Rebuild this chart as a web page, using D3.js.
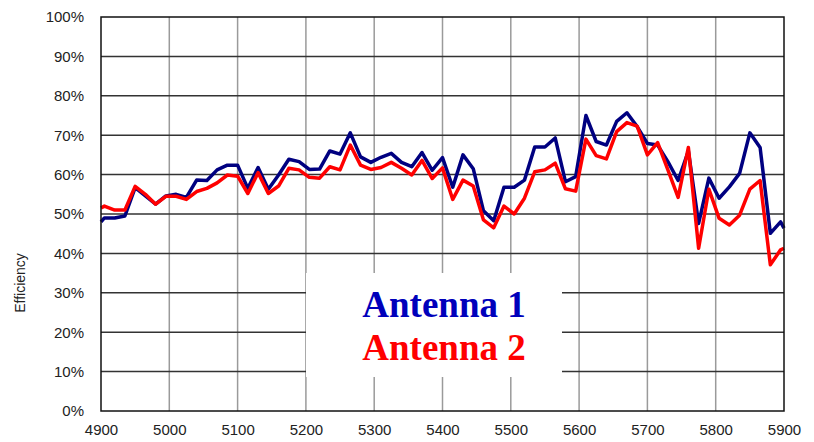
<!DOCTYPE html>
<meta charset="utf-8">
<style>
  body { margin: 0; background: #fff; }
  svg { display: block; }
</style>
<script src="https://d3js.org/d3.v7.min.js"></script>
<body>
<svg id="chart"></svg>
<script>
// frequencies (MHz) and efficiencies (%)
var freqs = [4900, 4905, 4920, 4935, 4950, 4965, 4980, 4995, 5010, 5025,
  5040, 5055, 5070, 5085, 5100, 5115, 5130, 5145, 5160, 5175,
  5190, 5205, 5220, 5235, 5250, 5265, 5280, 5295, 5310, 5325,
  5340, 5355, 5370, 5385, 5400, 5415, 5430, 5445, 5460, 5475,
  5490, 5505, 5520, 5535, 5550, 5565, 5580, 5595, 5610, 5625,
  5640, 5655, 5670, 5685, 5700, 5715, 5730, 5745, 5760, 5775,
  5790, 5805, 5820, 5835, 5850, 5865, 5880, 5895, 5900];

var antenna1 = [48, 49, 49, 49.5, 56.7, 54.6, 52.5, 54.6, 55, 54.2,
  58.6, 58.5, 61.2, 62.4, 62.4, 56.5, 61.8, 56.3, 59.9, 63.9,
  63.3, 61.3, 61.4, 66, 65.2, 70.6, 64.5, 63.1, 64.4, 65.4,
  63.1, 62, 65.6, 61.1, 64.3, 56.8, 65, 61.5, 50.8, 48.3,
  56.8, 56.8, 58.6, 67, 67, 69.3, 58.2, 59.5, 75, 68.4,
  67.5, 73.5, 75.7, 72.2, 67.9, 67.5, 63.3, 58.5, 66, 47.6,
  59.1, 54, 56.9, 60.3, 70.6, 66.9, 45.1, 48, 46.4];

var antenna2 = [51.5, 52, 51, 51, 57, 55, 52.5, 54.5, 54.5, 53.7,
  55.7, 56.5, 57.9, 59.9, 59.6, 55.2, 60.5, 55.2, 57.1, 61.6,
  61.2, 59.3, 59.1, 62, 61.2, 67.5, 62.4, 61.3, 61.8, 63.1,
  61.6, 59.9, 63.6, 59, 61.7, 53.7, 58.6, 57.1, 48.5, 46.5,
  52, 50, 54, 60.7, 61.2, 62.9, 56.4, 55.8, 69, 64.8,
  64, 70.9, 73.2, 72.3, 65, 68.1, 61.2, 54.2, 66.9, 41.3,
  56.3, 48.9, 47.2, 49.7, 56.3, 58.5, 37.1, 40.9, 41.3];

var xTicks = [4900, 5000, 5100, 5200, 5300, 5400, 5500, 5600, 5700, 5800, 5900];
var yTicks = [0, 10, 20, 30, 40, 50, 60, 70, 80, 90, 100];
var seriesNames = ["Antenna 1", "Antenna 2"];
var seriesColours = ["#000080", "#ff0000"];
var legendColours = ["#0000bb", "#ff0000"];

var W = 814, H = 442;
var m = {l: 101, r: 784, t: 17, b: 411};

var svg = d3.select("#chart").attr("width", W).attr("height", H);

var x = d3.scaleLinear().domain([4900, 5900]).range([m.l, m.r]);
var y = d3.scaleLinear().domain([0, 100]).range([m.b, m.t]);

// vertical grid (light grey)
svg.append("g")
  .selectAll("line")
  .data(xTicks.slice(1, -1))
  .enter().append("line")
  .attr("x1", d => x(d)).attr("x2", d => x(d))
  .attr("y1", m.t).attr("y2", m.b)
  .attr("stroke", "#9a9a9a").attr("stroke-width", 1.5);

// horizontal grid (dark)
svg.append("g")
  .selectAll("line")
  .data(yTicks.slice(1, -1))
  .enter().append("line")
  .attr("x1", m.l).attr("x2", m.r)
  .attr("y1", d => y(d)).attr("y2", d => y(d))
  .attr("stroke", "#333").attr("stroke-width", 1.5);

// axes, drawn with d3 but without tick marks
var yAxis = svg.append("g")
  .attr("transform", "translate(" + m.l + ",0)")
  .call(d3.axisLeft(y).tickValues(yTicks).tickSize(0).tickPadding(17).tickFormat(d => d + "%"));
var xAxis = svg.append("g")
  .attr("transform", "translate(0," + m.b + ")")
  .call(d3.axisBottom(x).tickValues(xTicks).tickSize(0).tickPadding(13).tickFormat(d3.format("d")));

[yAxis, xAxis].forEach(a => {
  a.select(".domain").remove();
  a.selectAll("text")
    .attr("fill", "#222")
    .style("font-family", "Liberation Sans, Arial, sans-serif")
    .style("font-size", "15px");
});

svg.append("text")
  .attr("transform", "translate(25,283) rotate(-90)")
  .attr("text-anchor", "middle")
  .attr("fill", "#222")
  .style("font-family", "Liberation Sans, Arial, sans-serif")
  .style("font-size", "14px")
  .text("Efficiency");

// the lines
var line = d3.line()
  .x((d, i) => x(freqs[i]))
  .y(d => y(d));

[antenna1, antenna2].forEach((s, k) => {
  svg.append("path")
    .datum(s)
    .attr("d", line)
    .attr("fill", "none")
    .attr("stroke", seriesColours[k])
    .attr("stroke-width", 3.5)
    .attr("stroke-linejoin", "round");
});

// plot frame
svg.append("rect")
  .attr("x", m.l).attr("y", m.t)
  .attr("width", m.r - m.l).attr("height", m.b - m.t)
  .attr("fill", "none").attr("stroke", "#111").attr("stroke-width", 1.5);

// white legend box over the grid
svg.append("rect")
  .attr("x", 306).attr("y", 273)
  .attr("width", 256).attr("height", 104)
  .attr("fill", "#fff");

svg.append("g")
  .selectAll("text")
  .data(seriesNames)
  .enter().append("text")
  .attr("x", 444)
  .attr("y", (d, i) => 317 + i * 43)
  .attr("text-anchor", "middle")
  .attr("fill", (d, i) => legendColours[i])
  .style("font-family", "Liberation Serif, Times New Roman, serif")
  .style("font-weight", "bold")
  .style("font-size", "37px")
  .text(d => d);
</script>
</body>
